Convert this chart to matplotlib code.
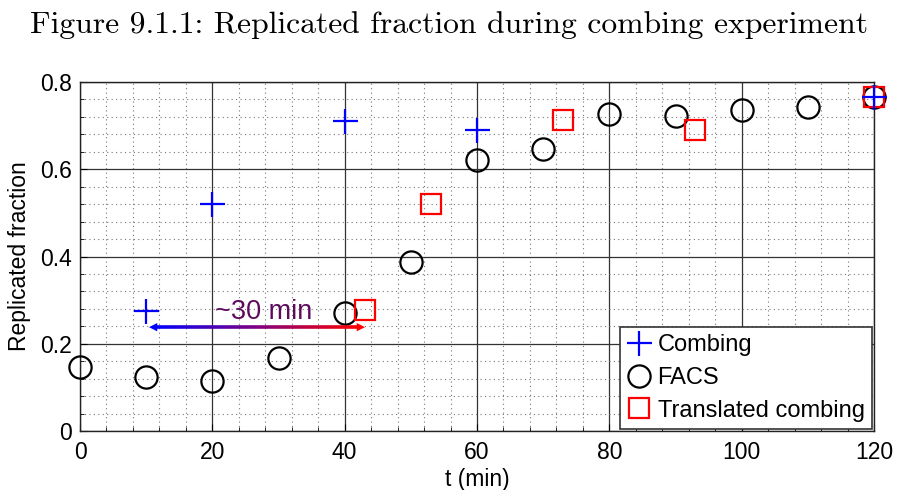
import numpy as np
import matplotlib
matplotlib.use("Agg")
import matplotlib.pyplot as plt
from matplotlib.collections import LineCollection
from matplotlib.ticker import MultipleLocator

# data
comb_t = [10, 20, 40, 60, 120]
comb_f = [0.275, 0.52, 0.711, 0.69, 0.765]
facs_t = [0, 10, 20, 30, 40, 50, 60, 70, 80, 90, 100, 110, 120]
facs_f = [0.147, 0.124, 0.115, 0.167, 0.27, 0.388, 0.622, 0.647, 0.727, 0.722, 0.736, 0.743, 0.765]
trans_t = [43, 53, 73, 93, 120]
trans_f = [0.277, 0.52, 0.713, 0.69, 0.765]
arrow_x = [10, 43.5]
arrow_y = 0.238

plt.rcParams['font.family'] = ['Liberation Sans', 'DejaVu Sans']

fig = plt.figure(figsize=(8.97, 4.9), dpi=100)
ax = fig.add_axes([80 / 897, 1 - 431 / 490, 794 / 897, 349 / 490])

ax.plot(comb_t, comb_f, '+', color='#0000ff', ms=18, mew=1.6, ls='none', label='Combing',
        zorder=5, clip_on=False)
ax.plot(facs_t, facs_f, 'o', mfc='none', mec='black', ms=16, mew=1.6, ls='none', label='FACS',
        zorder=4, clip_on=False)
ax.plot(trans_t, trans_f, 's', mfc='none', mec='#ff0000', ms=14, mew=1.6, ls='none',
        label='Translated combing', zorder=4, clip_on=False)

# gradient arrow blue -> red
xs = np.linspace(arrow_x[0] + 1.2, arrow_x[1] - 1.2, 80)
segs = [[(xs[i], arrow_y), (xs[i + 1], arrow_y)] for i in range(len(xs) - 1)]
cols = [(t, 0, 1 - t) for t in np.linspace(0, 1, len(segs))]
ax.add_collection(LineCollection(segs, colors=cols, linewidths=2.6, zorder=6))
ax.annotate('', xy=(arrow_x[0], arrow_y), xytext=(arrow_x[0] + 2, arrow_y),
            arrowprops=dict(arrowstyle='-|>', color='#0000ff', lw=0, mutation_scale=15), zorder=6)
ax.annotate('', xy=(arrow_x[1], arrow_y), xytext=(arrow_x[1] - 2, arrow_y),
            arrowprops=dict(arrowstyle='-|>', color='#ff0000', lw=0, mutation_scale=15), zorder=6)
ax.text(27.7, 0.273, '~30 min', color='#5c0a5c', fontsize=19.5, ha='center', va='center', zorder=6)

ax.set_xlim(0, 120)
ax.set_ylim(0, 0.8)
ax.set_xticks([0, 20, 40, 60, 80, 100, 120])
ax.set_yticks([0, 0.2, 0.4, 0.6, 0.8])
ax.set_yticklabels(['0', '0.2', '0.4', '0.6', '0.8'])
ax.xaxis.set_minor_locator(MultipleLocator(4))
ax.yaxis.set_minor_locator(MultipleLocator(0.04))
ax.tick_params(which='both', direction='in', labelsize=16.5)
ax.tick_params(axis='x', which='major', length=5, pad=7)
ax.tick_params(axis='y', which='major', length=5, pad=6)
ax.tick_params(which='minor', length=3)
ax.grid(which='major', color='#333333', lw=0.9, ls='-')
ax.grid(which='minor', color='#777777', lw=0.8, ls=(0, (1, 3)))
ax.set_axisbelow(True)
for s in ax.spines.values():
    s.set_color('#222222')
    s.set_linewidth(1)

ax.set_xlabel('t (min)', fontsize=16.5, labelpad=3)
ax.set_ylabel('Replicated fraction', fontsize=16.5, labelpad=6)

leg = ax.legend(loc='lower right', fontsize=17, frameon=True, fancybox=False,
                handlelength=1.0, handletextpad=0.3, borderpad=0.3, labelspacing=0.45,
                borderaxespad=0.1, markerscale=1.0)
leg.get_frame().set_edgecolor('#333333')
leg.get_frame().set_linewidth(1.2)
leg.get_frame().set_alpha(1)

fig.text(0.5, 1 - 25 / 490, 'Figure 9.1.1: Replicated fraction during combing experiment',
         fontfamily='cmr10', fontsize=22.8, ha='center', va='center')

fig.savefig('out.png', dpi=100)
